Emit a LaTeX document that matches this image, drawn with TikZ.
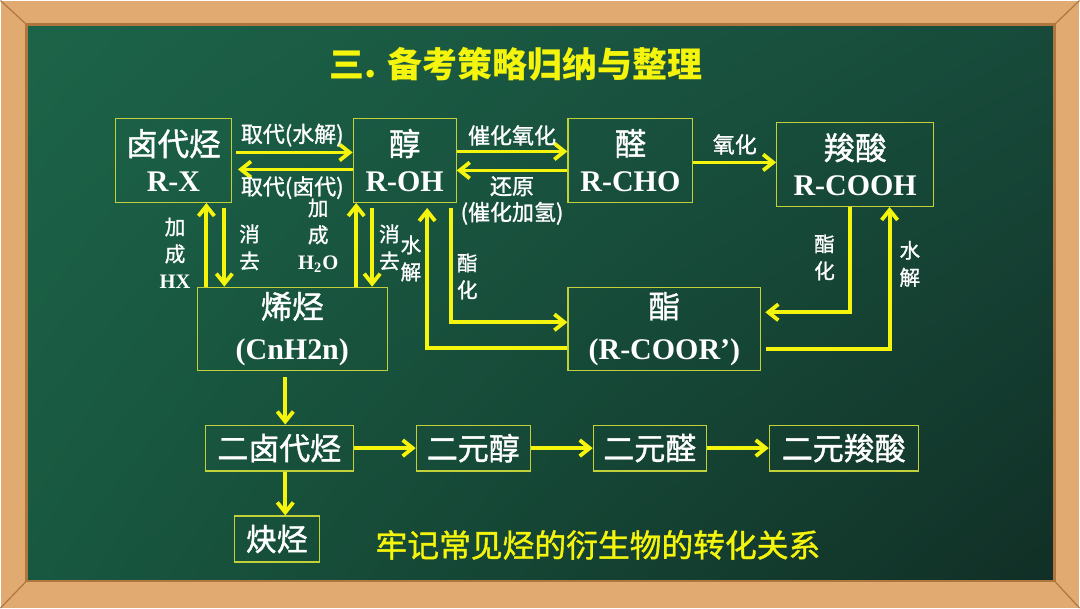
\documentclass[tikz,border=0pt]{standalone}
\usepackage{fontspec}
\setmainfont{Liberation Serif}
\newfontfamily\cjk{Noto Sans CJK SC}
\newfontfamily\cjkheavy[FakeBold=1.2]{Noto Sans CJK SC}
\usepackage{xcolor}
\usepackage{tikz}
\usetikzlibrary{arrows.meta,positioning,shadings}
\definecolor{BoardGreen}{HTML}{1C6449}
\definecolor{BoardMid}{HTML}{174A3A}
\definecolor{BoardLow}{HTML}{185840}
\definecolor{BoardDark}{HTML}{112F26}
\definecolor{ChalkYellow}{HTML}{F4F40C}
\definecolor{EdgeYellow}{HTML}{C2D03A}
\definecolor{WoodLight}{HTML}{E0AA70}
\definecolor{WoodDark}{HTML}{B07640}
\newcommand{\formula}[1]{{\rmfamily\bfseries #1}}
\newcommand{\compname}[1]{{\cjkheavy\fontsize{15.8pt}{18pt}\selectfont #1}}
\tikzset{
  box/.style={draw=EdgeYellow, line width=0.6pt, align=center, text=white, inner sep=0pt},
  compound/.style={box, minimum height=42pt, font=\fontsize{15pt}{18pt}\selectfont},
  series/.style={box, minimum height=23pt, font=\cjkheavy\fontsize{15.5pt}{18pt}\selectfont},
  flow/.style={-{Straight Barb[length=5pt,width=8pt]}, line width=1.9pt, draw=ChalkYellow},
  note/.style={text=white, align=center, inner sep=2pt, font=\cjkheavy\fontsize{11pt}{13pt}\selectfont},
  tag/.style={text=white, align=center, inner sep=2pt, font=\cjkheavy\fontsize{10.3pt}{13.5pt}\selectfont}
}

\begin{document}
\begin{tikzpicture}[x=0.5pt, y=-0.5pt, node distance=31pt]
  % blackboard and wooden frame
  \fill[WoodLight] (0,0) rectangle (1080,608);
  \draw[WoodDark, line width=0.6pt] (0,0) -- (26,24) (1080,0) -- (1055,24)
    (0,608) -- (26,581) (1080,608) -- (1055,581);
  \shade[upper left=BoardGreen, upper right=BoardMid, lower left=BoardLow, lower right=BoardDark]
    (26,24) rectangle (1055,581);
  \draw[WoodDark, line width=1.2pt] (26,24) rectangle (1055,581);

  \node[text=ChalkYellow, font=\cjk\bfseries\fontsize{17.5pt}{20pt}\selectfont] (title) at (516,64) {三. 备考策略归纳与整理};

  \node[compound, minimum width=58pt] (halide) at (173,160) {\compname{卤代烃}\\\formula{R-X}};
  \node[compound, minimum width=51.5pt] (alcohol) at (404.5,160) {\compname{醇}\\\formula{R-OH}};
  \node[compound, minimum width=62.5pt] (aldehyde) at (630.5,160) {\compname{醛}\\\formula{R-CHO}};
  \node[compound, minimum width=78.5pt] (acid) at (855.5,164) {\compname{羧酸}\\\formula{R-COOH}};
  \node[compound, minimum width=95pt, minimum height=41.5pt] (alkene) at (292,328.5) {\compname{烯烃}\\[2.5pt]\formula{(CnH2n)}};
  \node[compound, minimum width=96.5pt, minimum height=41.5pt] (ester) at (664.5,328.5) {\compname{酯}\\[2.5pt]\formula{(R-COOR’)}};

  \node[series, minimum width=74pt] (dihalide) at (279,448) {二卤代烃};
  \node[series, minimum width=57pt, right=of dihalide] (diol) {二元醇};
  \node[series, minimum width=56.5pt, right=of diol] (dial) {二元醛};
  \node[series, minimum width=74.5pt, right=of dial] (diacid) {二元羧酸};
  \node[series, minimum width=42.5pt] (alkyne) at (276.5,539) {炔烃};

  \node[text=ChalkYellow, font=\cjkheavy\fontsize{15.9pt}{18pt}\selectfont] (motto) at (598,545) {牢记常见烃的衍生物的转化关系};

  \draw[flow, shorten <=2pt] ([yshift=4pt]halide.east) -- node[above, note]{取代(水解)} ([yshift=4pt]alcohol.west);
  \draw[flow, shorten >=3pt] ([yshift=-4.5pt]alcohol.west) -- node[below=0.5pt, note]{取代(卤代)} ([yshift=-4.5pt]halide.east);
  \draw[flow] ([yshift=4.5pt]alcohol.east) -- node[above, note]{催化氧化} ([yshift=4.5pt]aldehyde.west);
  \draw[flow] ([yshift=-5pt]aldehyde.west) -- node[below, note]{还原\\(催化加氢)} ([yshift=-5pt]alcohol.east);
  \draw[flow] ([yshift=-1pt]aldehyde.east) -- node[above=1pt, note]{氧化} ([yshift=-1pt]aldehyde.east -| acid.west);

  \draw[flow] ([xshift=25.5pt,yshift=-2.5pt]halide.south) -- node[right=4.5pt, tag]{消\\去} ([xshift=25.5pt]halide.south |- alkene.north);
  \draw[flow] ([xshift=16.5pt]halide.south |- alkene.north) -- node[pos=0.4, left=5pt, tag]{加\\成\\\formula{HX}} ([xshift=16.5pt]halide.south);
  \draw[flow] ([xshift=-24.25pt]alcohol.south |- alkene.north) -- node[pos=0.61, left=6pt, tag]{加\\成\\\formula{H\textsubscript{2}O}} ([xshift=-24.25pt]alcohol.south);
  \draw[flow] ([xshift=-16.25pt,yshift=-2.5pt]alcohol.south) -- node[right=0.5pt, tag]{消\\去} ([xshift=-16.25pt]alcohol.south |- alkene.north);

  \draw[flow] ([yshift=-9.75pt]ester.west) -| node[pos=0.82, left=0pt, tag]{水\\解} ([xshift=11.25pt,yshift=-2.5pt]alcohol.south);
  \draw[flow] ([xshift=23.25pt,yshift=-2.5pt]alcohol.south) |- node[pos=0.3, right=0pt, tag]{酯\\化} ([yshift=3.25pt]ester.west);
  \draw[flow, shorten >=2pt] ([xshift=-2.75pt]acid.south) |- node[pos=0.24, left=4.5pt, tag]{酯\\化} ([yshift=8.25pt]ester.east);
  \draw[flow, shorten <=2.5pt] ([yshift=-10.25pt]ester.east) -| node[pos=0.8, right=2pt, tag]{水\\解} ([xshift=17.25pt]acid.south);

  \draw[flow] ([xshift=-3.5pt,yshift=-3pt]alkene.south) -- ([xshift=-3.5pt]alkene.south |- dihalide.north);
  \draw[flow] (dihalide) -- (diol);
  \draw[flow] (diol) -- (dial);
  \draw[flow] (dial) -- (diacid);
  \draw[flow] ([xshift=3pt]dihalide.south) -- ([xshift=3pt]dihalide.south |- alkyne.north);
\end{tikzpicture}
\end{document}
